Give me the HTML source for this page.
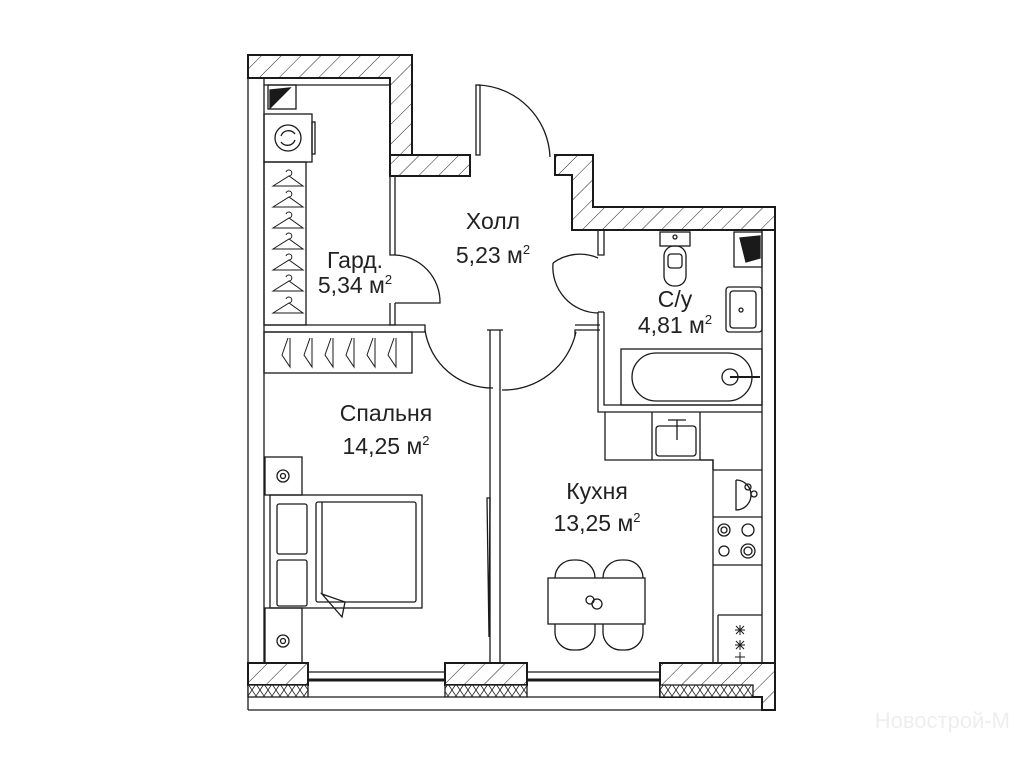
<!DOCTYPE html>
<html><head><meta charset="utf-8"><style>
body{margin:0;background:#fff}
svg{display:block}
text{font-family:"Liberation Sans",sans-serif;fill:#222}
</style></head><body>
<svg width="1024" height="768" viewBox="0 0 1024 768" xmlns="http://www.w3.org/2000/svg">
<defs>
<pattern id="h" patternUnits="userSpaceOnUse" width="14" height="14" patternTransform="rotate(45)">
<rect width="14" height="14" fill="#fff"/><line x1="0" y1="0" x2="0" y2="14" stroke="#222" stroke-width="1"/>
</pattern>
<pattern id="x" patternUnits="userSpaceOnUse" width="8" height="12">
<rect width="8" height="12" fill="#fff"/><path d="M0 0L8 12M8 0L0 12" stroke="#222" stroke-width="0.8"/>
</pattern>
</defs>
<g stroke="#1a1a1a" fill="none" stroke-width="1.3">
<path d="M248 55H412V176H390V78H248Z" fill="url(#h)" stroke-width="2"/>
<rect x="390" y="155" width="80" height="21" fill="url(#h)" stroke-width="2"/>
<path d="M555 155H593V207H775V230H572V175H555Z" fill="url(#h)" stroke-width="2"/>
<line x1="248" y1="78" x2="248" y2="710"/>
<line x1="264" y1="85" x2="264" y2="663"/>
<line x1="775" y1="230" x2="775" y2="710" stroke-width="2"/>
<line x1="762" y1="230" x2="762" y2="663"/>
<rect x="248" y="663" width="60" height="22" fill="url(#h)" stroke-width="2"/>
<rect x="248" y="685" width="60" height="12" fill="url(#x)"/>
<rect x="445" y="663" width="82" height="22" fill="url(#h)" stroke-width="2"/>
<rect x="445" y="685" width="82" height="12" fill="url(#x)"/>
<path d="M660 663H775V710H762V697H660Z" fill="url(#h)" stroke-width="2"/>
<path d="M660 685H753V697H660Z" fill="url(#x)"/>
<line x1="248" y1="710" x2="775" y2="710"/>
<line x1="308" y1="672" x2="445" y2="672"/>
<line x1="527" y1="672" x2="660" y2="672"/>
<line x1="308" y1="697" x2="445" y2="697"/>
<line x1="527" y1="697" x2="660" y2="697"/>
<line x1="308" y1="680" x2="445" y2="680" stroke-width="3"/>
<line x1="527" y1="680" x2="660" y2="680" stroke-width="3"/>
<path d="M264 78V85H390"/>
<rect x="268" y="85" width="28" height="24" fill="none"/>
<path d="M270 90L290 88L270 108Z" fill="#1a1a1a"/>
<rect x="264" y="114" width="48" height="48"/>
<rect x="312" y="122" width="3" height="32"/>
<circle cx="288" cy="138" r="13"/>
<path d="M281 136a8 8 0 0 1 14 -2M295 140a8 8 0 0 1 -14 2"/>
<rect x="264" y="162" width="42" height="163"/>
<g stroke-width="1">
<path d="M273 186L289 176L303 186H273Z M289 176a3 3 0 1 0 -3 -4"/>
<path d="M273 207L289 197L303 207H273Z M289 197a3 3 0 1 0 -3 -4"/>
<path d="M273 228L289 218L303 228H273Z M289 218a3 3 0 1 0 -3 -4"/>
<path d="M273 249L289 239L303 249H273Z M289 239a3 3 0 1 0 -3 -4"/>
<path d="M273 270L289 260L303 270H273Z M289 260a3 3 0 1 0 -3 -4"/>
<path d="M273 291L289 281L303 291H273Z M289 281a3 3 0 1 0 -3 -4"/>
<path d="M273 313L289 303L303 313H273Z M289 303a3 3 0 1 0 -3 -4"/>
</g>
<path d="M390 176V255H395V176M390 303V325H395V303"/>
<path d="M395 255a47 47 0 0 1 45 48H395"/>
<path d="M264 325H425V332H264"/>
<rect x="264" y="332" width="148" height="41"/>
<g stroke-width="1">
<path d="M288 338L282 355L290 367V338M310 338L304 355L312 367V338M331 338L325 355L333 367V338M352 338L346 355L354 367V338M373 338L367 355L375 367V338M394 338L388 355L396 367V338"/>
</g>
<rect x="476" y="85" width="4" height="70"/>
<path d="M478 85a75 75 0 0 1 72 72"/>
<path d="M425 330a68 68 0 0 0 68 58"/>
<path d="M490 330V663M500 330V663M487 330H503"/>
<path d="M600 330H575V336"/>
<path d="M576 332a74 74 0 0 1 -74 58"/>
<path d="M487 498L489 637L490 498Z"/>
<path d="M598 230V255H604V230M598 312V412H762M604 312V405H762M598 312H604"/>
<path d="M598 258a45 45 0 0 0 -45 5"/>
<path d="M553 263a46 46 0 0 0 45 50"/>
<path d="M575 325H600"/>
<rect x="660" y="232" width="30" height="14"/>
<rect x="664" y="246" width="22" height="40" rx="10"/>
<rect x="668" y="254" width="14" height="14" rx="3"/>
<circle cx="675" cy="237" r="2"/>
<rect x="734" y="232" width="28" height="35"/>
<path d="M740 238L760 236V258L746 262Z" fill="#1a1a1a"/>
<rect x="726" y="287" width="36" height="45" rx="3"/>
<rect x="730" y="291" width="26" height="37" rx="3"/>
<circle cx="741" cy="310" r="2"/>
<rect x="621" y="349" width="141" height="56"/>
<rect x="632" y="353" width="120" height="48" rx="24"/>
<circle cx="730" cy="377" r="8"/>
<line x1="730" y1="377" x2="760" y2="377" stroke-width="2"/>
<path d="M605 412V460H713V663M652 412V460M700 412V460M713 470H762M713 517H762M713 565H762M718 615H762M718 615V663"/>
<path d="M700 460H713V470" />
<rect x="656" y="426" width="40" height="30" rx="3"/>
<path d="M668 420H686M677 420V440"/>
<path d="M736 480a8 8 0 0 1 0 30V480" /><circle cx="748" cy="487" r="3"/><circle cx="754" cy="494" r="3"/>
<circle cx="724" cy="530" r="6"/><circle cx="724" cy="530" r="3"/><circle cx="748" cy="530" r="6"/>
<circle cx="724" cy="551" r="5"/><circle cx="748" cy="551" r="7"/><circle cx="748" cy="551" r="4"/>
<g stroke-width="1"><path d="M740 625v10M735 630h10M736 626l8 8M744 626l-8 8M740 640v10M735 645h10M736 641l8 8M744 641l-8 8M740 652v10M735 657h10"/></g>
<rect x="265" y="457" width="37" height="38"/><circle cx="283" cy="476" r="6"/><circle cx="283" cy="476" r="2.5"/>
<rect x="265" y="608" width="37" height="55"/><circle cx="283" cy="641" r="6"/><circle cx="283" cy="641" r="2.5"/>
<rect x="270" y="495" width="152" height="113"/>
<rect x="277" y="504" width="30" height="50" rx="2"/>
<rect x="277" y="560" width="30" height="46" rx="2"/>
<rect x="316" y="502" width="100" height="100" rx="2"/>
<path d="M322 502V594M322 594L345 602L342 617Z"/>
<rect x="555" y="560" width="40" height="90" rx="18"/>
<rect x="603" y="560" width="40" height="90" rx="18"/>
<rect x="548" y="578" width="97" height="46" fill="#fff"/>
<circle cx="590" cy="600" r="4"/><circle cx="597" cy="604" r="5"/>
</g>
<g font-size="23">
<text x="493" y="229" text-anchor="middle">Холл</text>
<text x="493" y="263" text-anchor="middle">5,23 м<tspan font-size="13" dy="-9">2</tspan></text>
<text x="355" y="268" text-anchor="middle">Гард.</text>
<text x="355" y="293" text-anchor="middle">5,34 м<tspan font-size="13" dy="-9">2</tspan></text>
<text x="675" y="307" text-anchor="middle">С/у</text>
<text x="675" y="333" text-anchor="middle">4,81 м<tspan font-size="13" dy="-9">2</tspan></text>
<text x="386" y="421" text-anchor="middle">Спальня</text>
<text x="386" y="454" text-anchor="middle">14,25 м<tspan font-size="13" dy="-9">2</tspan></text>
<text x="597" y="499" text-anchor="middle">Кухня</text>
<text x="597" y="531" text-anchor="middle">13,25 м<tspan font-size="13" dy="-9">2</tspan></text>
</g>
<text x="1010" y="728" text-anchor="end" font-size="22" style="fill:#eee">Новострой-М</text>
</svg>
</body></html>
